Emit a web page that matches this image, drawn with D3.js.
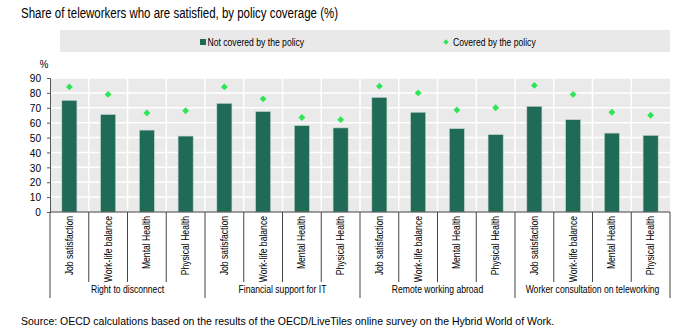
<!DOCTYPE html>
<html>
<head>
<meta charset="utf-8">
<script src="https://cdn.jsdelivr.net/npm/d3@7"></script>
<style>
  body { margin: 0; background: #fff; }
  text { font-family: "Liberation Sans", Arial, sans-serif; fill: #000; }
</style>
</head>
<body>
<script>
// data
var groups = ["Right to disconnect", "Financial support for IT", "Remote working abroad", "Worker consultation on teleworking"];
var outcomes = ["Job satisfaction", "Work-life balance", "Mental Health", "Physical Health"];
var notCovered = [75, 65.5, 55, 51, 73, 67.5, 58, 56.5, 77, 67, 56, 52, 71, 62, 53, 51.5];
var covered = [84, 79, 66.5, 68, 84, 76, 63.5, 62, 84.5, 80, 68.5, 70, 85, 79, 67, 65];
var yTicks = [0, 10, 20, 30, 40, 50, 60, 70, 80, 90];

var W = 696, H = 332;
var margin = {top: 78, right: 26, bottom: 120, left: 50},
    width = W - margin.left - margin.right,
    height = H - margin.top - margin.bottom;
var narrow = 0.82; // the original uses a narrow face

var rows = [];
groups.forEach(function(g, gi) {
    outcomes.forEach(function(o, oi) {
        var i = gi * outcomes.length + oi;
        rows.push({key: i, group: g, outcome: o, nc: notCovered[i], c: covered[i]});
    });
});

var svg = d3.select("body").append("svg")
    .attr("width", W)
    .attr("height", H);

svg.append("text")
    .attr("transform", "translate(21,18) scale(" + narrow + ",1)")
    .style("font-size", "14px")
    .text("Share of teleworkers who are satisfied, by policy coverage (%)");

// legend
var leg = svg.append("g");
leg.append("rect").attr("x", 60).attr("y", 30).attr("width", 610).attr("height", 22).attr("fill", "#e9e9e9");
leg.append("rect").attr("x", 200).attr("y", 39).attr("width", 6).attr("height", 6).attr("fill", "#1f6b57");
leg.append("text").attr("transform", "translate(207.5,45.5) scale(" + narrow + ",1)").style("font-size", "10.5px").text("Not covered by the policy");
leg.append("path").attr("d", d3.symbol(d3.symbolDiamond2, 18)()).attr("transform", "translate(446,42)").attr("fill", "#2ee556");
leg.append("text").attr("transform", "translate(453,45.5) scale(" + narrow + ",1)").style("font-size", "10.5px").text("Covered by the policy");

var g = svg.append("g").attr("transform", "translate(" + margin.left + "," + margin.top + ")");

var x = d3.scaleBand().domain(rows.map(function(d) { return d.key; })).range([0, width]).paddingInner(0).paddingOuter(0);
var y = d3.scaleLinear().domain([0, 90]).range([height, 0]);

g.append("rect").attr("width", width).attr("height", height).attr("fill", "#eaeaea");

// horizontal grid
g.selectAll(".hgrid").data(yTicks.slice(1)).enter().append("line")
    .attr("x1", 0).attr("x2", width)
    .attr("y1", function(d) { return y(d); }).attr("y2", function(d) { return y(d); })
    .attr("stroke", "#fff").attr("stroke-width", 1.5);
// vertical grid at band edges
g.selectAll(".vgrid").data(rows.slice(1)).enter().append("line")
    .attr("x1", function(d) { return x(d.key); }).attr("x2", function(d) { return x(d.key); })
    .attr("y1", 0).attr("y2", height)
    .attr("stroke", "#fff").attr("stroke-width", 1.5);

var bw = x.bandwidth() * 0.39;
g.selectAll(".bar").data(rows).enter().append("rect")
    .attr("x", function(d) { return x(d.key) + (x.bandwidth() - bw) / 2; })
    .attr("y", function(d) { return y(d.nc); })
    .attr("width", bw)
    .attr("height", function(d) { return y(0) - y(d.nc); })
    .attr("fill", "#1f6b57")
    .attr("stroke", "#c9d6d0").attr("stroke-width", 0.6);

g.selectAll(".pt").data(rows).enter().append("path")
    .attr("d", d3.symbol(d3.symbolDiamond2, 30)())
    .attr("transform", function(d) { return "translate(" + (x(d.key) + x.bandwidth() / 2) + "," + y(d.c) + ")"; })
    .attr("fill", "#2ee556");

// y axis
var yAxis = g.append("g").call(d3.axisLeft(y).tickValues(yTicks).tickSize(3).tickPadding(4));
yAxis.select(".domain").attr("stroke", "#555");
yAxis.selectAll(".tick line").attr("stroke", "#555");
yAxis.selectAll("text").style("font-size", "11.5px").attr("fill", "#000")
    .attr("transform", "scale(0.88,1)").attr("x", -9 / 0.88);
g.append("text").attr("transform", "translate(-6,-10) scale(0.88,1)").attr("text-anchor", "middle").style("font-size", "11px").text("%");

// x axis
g.append("line").attr("x1", 0).attr("x2", width).attr("y1", height).attr("y2", height).attr("stroke", "#444");
var edges = d3.range(rows.length + 1);
g.selectAll(".sep").data(edges).enter().append("line")
    .attr("x1", function(i) { return i * x.step(); }).attr("x2", function(i) { return i * x.step(); })
    .attr("y1", height)
    .attr("y2", function(i) { return height + (i % outcomes.length === 0 ? 86 : 70); })
    .attr("stroke", "#444").attr("stroke-width", 1);

g.selectAll(".xlab").data(rows).enter().append("text")
    .attr("transform", function(d) { return "translate(" + (x(d.key) + x.bandwidth() / 2 + 3.5) + "," + (height + 4) + ") rotate(-90) scale(" + narrow + ",1)"; })
    .attr("text-anchor", "end")
    .style("font-size", "10.5px")
    .text(function(d) { return d.outcome; });

g.selectAll(".glab").data(groups).enter().append("text")
    .attr("transform", function(d, i) { return "translate(" + ((i + 0.5) * outcomes.length * x.step()) + "," + (height + 81) + ") scale(" + narrow + ",1)"; })
    .attr("text-anchor", "middle")
    .style("font-size", "10.5px")
    .text(function(d) { return d; });

svg.append("text")
    .attr("x", 21).attr("y", 325)
    .style("font-size", "10.5px")
    .text("Source: OECD calculations based on the results of the OECD/LiveTiles online survey on the Hybrid World of Work.");
</script>
</body>
</html>
